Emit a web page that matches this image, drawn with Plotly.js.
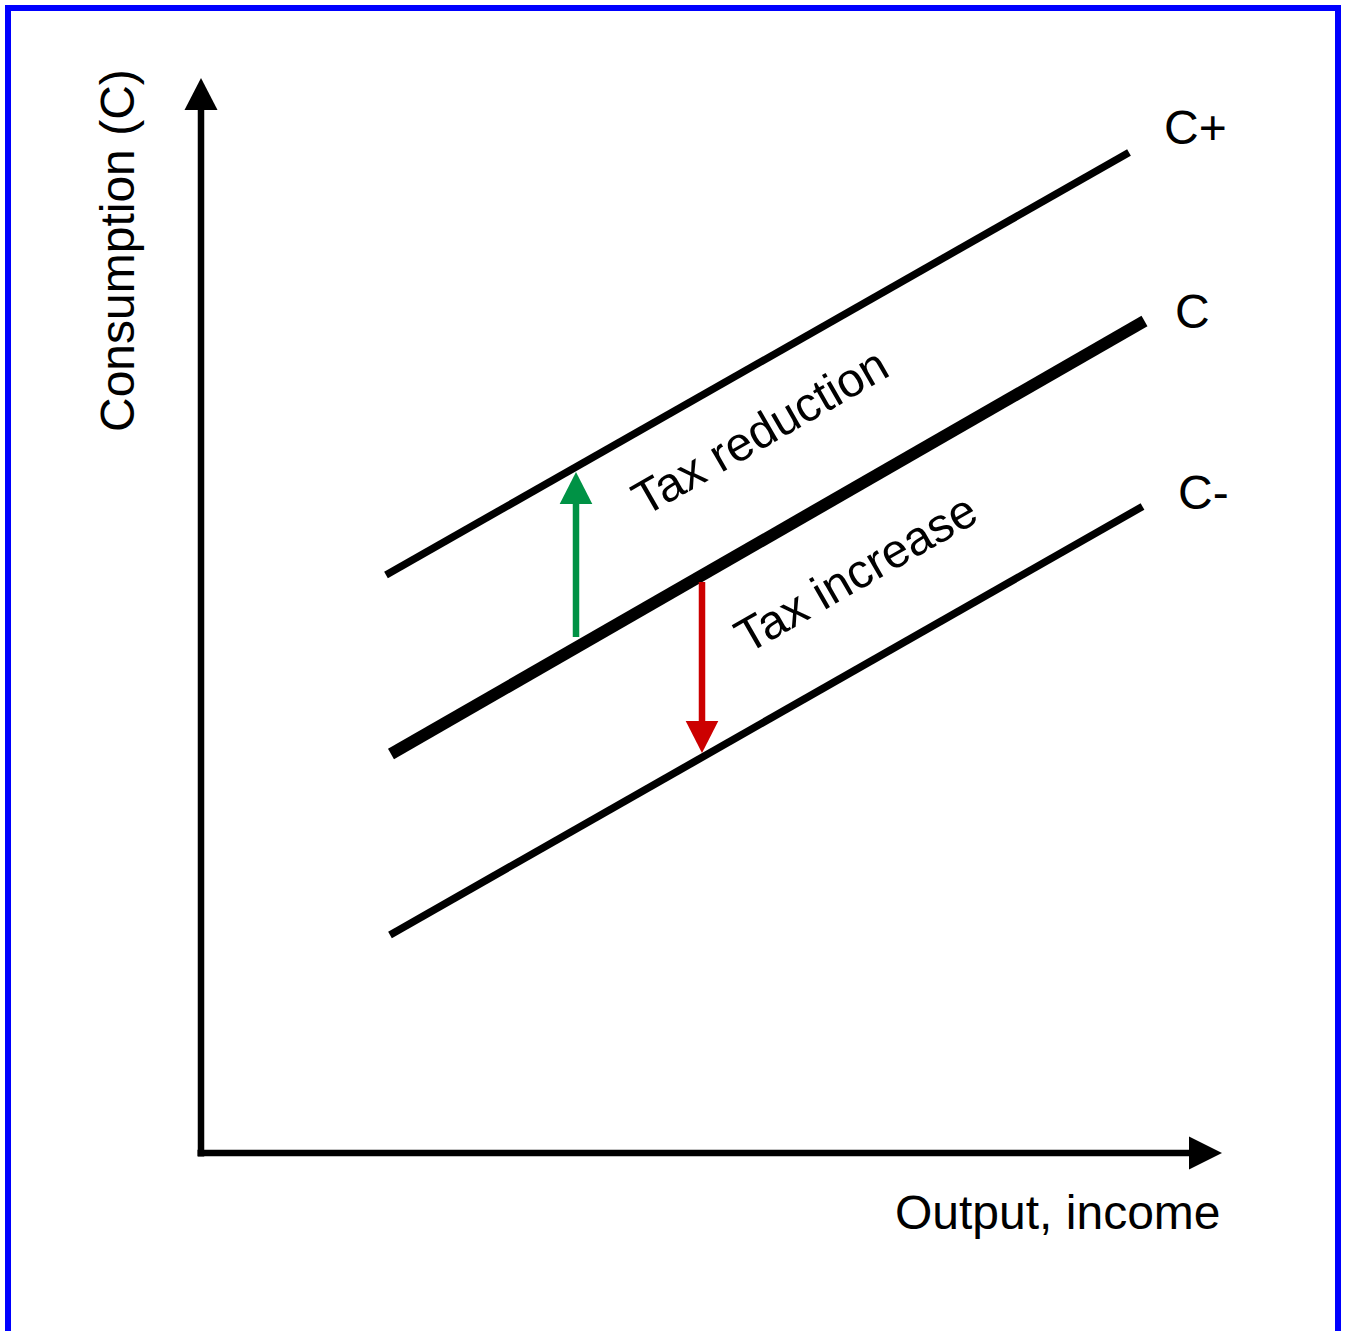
<!DOCTYPE html>
<html>
<head>
<meta charset="utf-8">
<script src="https://cdn.plot.ly/plotly-3.0.1.min.js"></script>
<style>
  html, body { margin: 0; padding: 0; background: #ffffff; overflow: hidden; }
  #chart { width: 1346px; height: 1331px; }
</style>
</head>
<body>
<div id="chart"></div>
<script>
// ---- Data (diagram units: origin at the axes corner) ----
const curveNames = ['C+', 'C', 'C-'];
const curveX0 = [1.85, 1.90, 1.89];
const curveY0 = [5.78, 3.99, 2.18];
const curveX1 = [9.28, 9.435, 9.415];
const curveY1 = [10.005, 8.32, 6.465];

const curveLabelX = [9.94, 9.91, 10.02];
const curveLabelY = [10.26, 8.42, 6.61];

const shiftNames = ['Tax reduction', 'Tax increase'];
const shiftX = [3.75, 5.01];
const shiftTailY = [5.16, 5.71];
const shiftTipY = [6.81, 4.00];
const shiftLabelX = [5.59, 6.54];
const shiftLabelY = [7.22, 5.80];

const axisStart = [-0.035, -0.035];   // [x-axis start x, y-axis start y]
const axisEnd = [10.21, 10.75];       // [x-axis tip x, y-axis tip y]
const axisTitles = ['Output, income', 'Consumption (C)'];
const axisTitleX = [8.565, -0.84];
const axisTitleY = [-0.59, 9.02];

// ---- Styles ----
const curveWidths = [7.5, 12, 7.5];
const shiftColors = ['#009245', '#CC0000'];
const FONT = 'Liberation Sans, Arial, Helvetica, sans-serif';
const FS = 48;
const HEAD_LEN = 0.32, HEAD_HALF = 0.163;

const traces = [];

function addArrow(x0, y0, x1, y1, color, width, len, half) {
  const L = Math.hypot(x1 - x0, y1 - y0);
  const dx = (x1 - x0) / L, dy = (y1 - y0) / L;
  const bx = x1 - dx * len, by = y1 - dy * len;
  traces.push({
    type: 'scatter', mode: 'lines', hoverinfo: 'skip', showlegend: false,
    x: [x0, bx + dx * 0.02], y: [y0, by + dy * 0.02],
    line: { color: color, width: width }
  });
  traces.push({
    type: 'scatter', mode: 'lines', hoverinfo: 'skip', showlegend: false,
    x: [bx - dy * half, bx + dy * half, x1, bx - dy * half],
    y: [by + dx * half, by - dx * half, y1, by + dx * half],
    fill: 'toself', fillcolor: color, line: { color: color, width: 0 }
  });
}

// Axes with arrowheads
addArrow(axisStart[0], 0, axisEnd[0], 0, '#000000', 6.5, 0.33, 0.165);
addArrow(0, axisStart[1], 0, axisEnd[1], '#000000', 6.5, 0.32, 0.165);

// Consumption lines
for (let i = 0; i < curveNames.length; i++) {
  traces.push({
    type: 'scatter', mode: 'lines', name: curveNames[i], hoverinfo: 'skip', showlegend: false,
    x: [curveX0[i], curveX1[i]], y: [curveY0[i], curveY1[i]],
    line: { color: '#000000', width: curveWidths[i] }
  });
}

// Tax shift arrows
for (let i = 0; i < shiftNames.length; i++) {
  addArrow(shiftX[i], shiftTailY[i], shiftX[i], shiftTipY[i], shiftColors[i], 6.5, HEAD_LEN, HEAD_HALF);
}

const annotations = [];
function addText(text, x, y, angle) {
  annotations.push({
    text: text, x: x, y: y, xref: 'x', yref: 'y', showarrow: false,
    xanchor: 'center', yanchor: 'middle', textangle: angle,
    font: { family: FONT, size: FS, color: '#000000' }
  });
}
for (let i = 0; i < curveNames.length; i++) addText(curveNames[i], curveLabelX[i], curveLabelY[i], 0);
const slopeAngle = -Math.atan((curveY1[1] - curveY0[1]) / (curveX1[1] - curveX0[1])) * 180 / Math.PI;
for (let i = 0; i < shiftNames.length; i++) addText(shiftNames[i], shiftLabelX[i], shiftLabelY[i], slopeAngle);
addText(axisTitles[0], axisTitleX[0], axisTitleY[0], 0);
addText(axisTitles[1], axisTitleX[1], axisTitleY[1], -90);

const layout = {
  width: 1346, height: 1331,
  margin: { l: 0, r: 0, t: 0, b: 0, pad: 0 },
  paper_bgcolor: '#ffffff', plot_bgcolor: '#ffffff',
  showlegend: false,
  xaxis: { range: [-2.01, 11.45], visible: false, fixedrange: true },
  yaxis: { range: [-1.78, 11.53], visible: false, fixedrange: true },
  annotations: annotations,
  shapes: [{
    type: 'rect', xref: 'paper', yref: 'paper',
    x0: 8 / 1346, x1: 1338 / 1346, y0: -0.02, y1: 1 - 8 / 1331,
    line: { color: '#0000FF', width: 6 }, fillcolor: 'rgba(0,0,0,0)'
  }]
};

Plotly.newPlot('chart', traces, layout, { staticPlot: true, displayModeBar: false });
</script>
</body>
</html>
